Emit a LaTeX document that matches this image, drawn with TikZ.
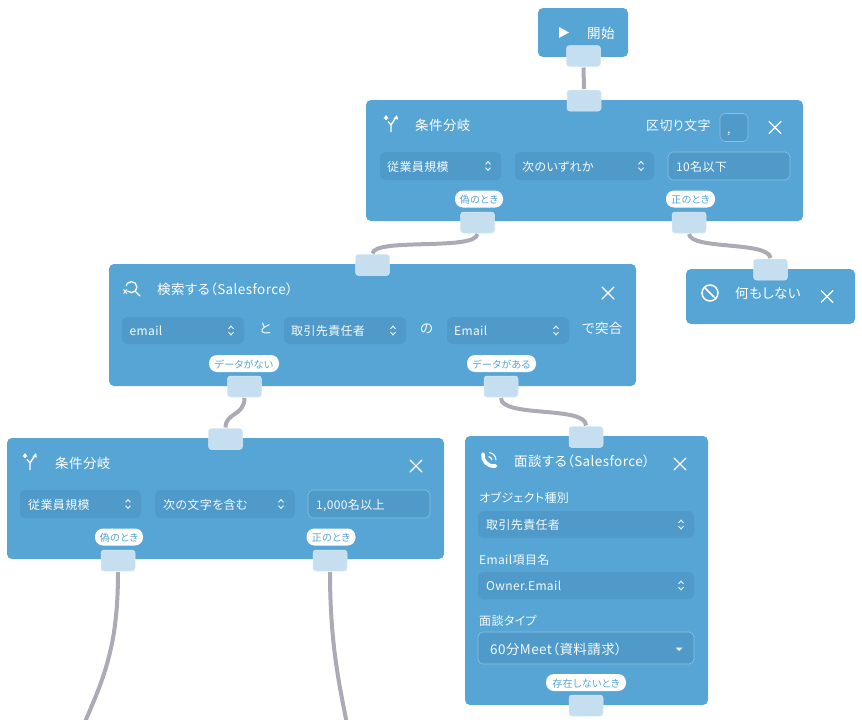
\documentclass[tikz,border=0pt]{standalone}
\usepackage{fontspec}
\setmainfont{Noto Sans CJK JP}[RawFeature=+palt,LetterSpace=3]
\definecolor{panelblue}{HTML}{56A5D5}
\definecolor{fieldblue}{HTML}{4F9AC9}
\definecolor{portblue}{HTML}{C5DFF0}
\definecolor{wiregray}{HTML}{ACAAB4}
\definecolor{edgeblue}{HTML}{8CC1E2}
\tikzset{
	panel/.style={fill=panelblue,rounded corners=5,inner sep=0,outer sep=0},
	port/.style={fill=portblue,draw=portblue!70!white,line width=.5,rounded corners=3,minimum width=34,minimum height=21,inner sep=0,outer sep=1},
	pill/.style={fill=white,text=panelblue,rounded corners=8,minimum height=17,inner sep=0,font=\fontsize{10}{10}\selectfont,text height=9.6,text depth=.4},
	field/.style={fill=fieldblue,rounded corners=5,inner sep=0},
	inputbox/.style={field,draw=edgeblue,line width=.6},
	title/.style={anchor=west,inner sep=0,text=white,font=\fontsize{13.5}{14}\selectfont,text height=1em,text depth=0em},
	label/.style={title,font=\fontsize{12}{13}\selectfont,text=white!94!panelblue},
	wire/.style={draw=wiregray,line width=4},
	iconline/.style={draw=white,line width=1.3,line cap=round},
	updown/.pic={
		\draw[white!90!panelblue,line width=.9] (-2.5,-1.6) -- (0,-4.4) -- (2.5,-1.6);
		\draw[white!90!panelblue,line width=.9] (-2.5,1.6) -- (0,4.4) -- (2.5,1.6);
	},
	cross/.pic={
		\draw[iconline] (-5.8,-5.8) -- (5.8,5.8);
		\draw[iconline] (-5.8,5.8) -- (5.8,-5.8);
	},
	branch/.pic={
		\draw[white,line width=1.4] (0,8) -- (0,1) -- (-3,-2.5);
		\draw[white,line width=1.4] (0,1) -- (4.5,-6);
		\draw[white,line width=1.4] (-5,-4.5) -- (-5,-6);
		\fill[white] (2.5,-5.5) -- (6,-9) -- (7,-4.5) -- cycle;
		\fill[white] (-7.5,-5.5) -- (-5,-9) -- (-2.5,-5.5) -- cycle;
	}
}
\begin{document}
\begin{tikzpicture}[x=1pt,y=-1pt]
	\useasboundingbox (0,0) rectangle (862,720);
	\node[panel,minimum width=90,minimum height=49] (start) at (583,32.5) {};
	\node[panel,minimum width=437,minimum height=121] (cond1) at (584.5,160.5) {};
	\node[panel,minimum width=527,minimum height=122] (search) at (372.5,325) {};
	\node[panel,minimum width=169,minimum height=55] (noop) at (770.5,296.5) {};
	\node[panel,minimum width=437,minimum height=121] (cond2) at (225.5,498.5) {};
	\node[panel,minimum width=243,minimum height=269] (meet) at (586.5,570.5) {};
	%
	\node[port] (startout) at (583.5,56) {};
	\node[port] (cond1in) at (584,100.5) {};
	\node[port] (cond1false) at (477.5,222.5) {};
	\node[port] (cond1true) at (689,222.5) {};
	\node[port] (searchin) at (372.5,265) {};
	\node[port] (searchnone) at (244.5,386.5) {};
	\node[port] (searchfound) at (501,386.5) {};
	\node[port] (noopin) at (770.5,269.5) {};
	\node[port] (cond2in) at (225.5,439) {};
	\node[port] (cond2false) at (118,560.5) {};
	\node[port] (cond2true) at (330,560.5) {};
	\node[port] (meetin) at (586,437) {};
	\node[port] (meetout) at (586,705.5) {};
	\coordinate (endfalse) at (84,724);
	\coordinate (endtrue) at (347,724);
	%
	\draw[wire] (startout.south) -- (cond1in.north);
	\draw[wire] (cond1false.south) .. controls +(-2,17) and +(2,-16) .. (searchin.north);
	\draw[wire] (cond1true.south) .. controls +(2,16) and +(-2,-17) .. (noopin.north);
	\draw[wire] (searchnone.south) .. controls +(0,18) and +(0,-15) .. (cond2in.north);
	\draw[wire] (searchfound.south) .. controls +(0,20) and +(0,-20) .. (meetin.north);
	\draw[wire] (cond2false.south) .. controls +(0,70) and +(22,-50) .. (endfalse);
	\draw[wire] (cond2true.south) .. controls +(0,70) and +(-8,-40) .. (endtrue);
	%
	\fill[white] (559,27) -- (569,32.5) -- (559,38) -- cycle;
	\node[title] (starttext) at (587,33) {開始};
	%
	\pic at (391,124) {branch};
	\node[title] (cond1text) at (415,125) {条件分岐};
	\node[label,font=\fontsize{13}{14}\selectfont] (septext) at (646,125) {区切り文字};
	\node[inputbox,minimum width=28,minimum height=28] (sepbox) at (734,127.5) {};
	\node[label] (sepvalue) at (727,128) {,};
	\pic at (775,127.5) {cross};
	\node[field,minimum width=121,minimum height=28] (cond1f1) at (440.5,166) {};
	\node[field,minimum width=139,minimum height=28] (cond1f2) at (584.5,166) {};
	\node[inputbox,minimum width=122,minimum height=28] (cond1f3) at (729,166) {};
	\node[label] (cond1t1) at (387,166) {従業員規模};
	\node[label] (cond1t2) at (522,166) {次のいずれか};
	\node[label] (cond1t3) at (676,166) {10名以下};
	\pic at (488,166) {updown};
	\pic at (641,166) {updown};
	\node[pill,minimum width=48] (cond1pf) at (479,199) {偽のとき};
	\node[pill,minimum width=49] (cond1pt) at (690.5,199) {正のとき};
	%
	\draw[iconline] (135.5,291.5) -- (140,296);
	\draw[white,line width=1.3] (127.5,291) arc (135:-165:5.5);
	\draw[white,line width=.9] (123.5,289.5) -- (127,293.5) (127,289.5) -- (123.5,293.5);
	\node[title] (searchtext) at (157,289) {検索する（Salesforce）};
	\pic at (608,293) {cross};
	\node[field,minimum width=122,minimum height=27] (searchf1) at (183,330.5) {};
	\node[field,minimum width=122,minimum height=27] (searchf2) at (345,330.5) {};
	\node[field,minimum width=122,minimum height=27] (searchf3) at (508,330.5) {};
	\node[label] (searcht1) at (129.5,330) {email};
	\node[label] (searcht2) at (291,330) {取引先責任者};
	\node[label] (searcht3) at (454,330) {Email};
	\node[label,font=\fontsize{13.5}{14}\selectfont] (andtext) at (259,328) {と};
	\node[label,font=\fontsize{13.5}{14}\selectfont] (oftext) at (420,328) {の};
	\node[label,font=\fontsize{13.5}{14}\selectfont] (matchtext) at (582,328) {で突合};
	\pic at (231,330.5) {updown};
	\pic at (393,330.5) {updown};
	\pic at (556,330.5) {updown};
	\node[pill,minimum width=70] (searchpn) at (244,363.5) {データがない};
	\node[pill,minimum width=69] (searchpf) at (501.5,363.5) {データがある};
	%
	\draw[white,line width=1.5] (704.3,287.3) -- (715.7,298.7);
	\draw[white,line width=1.5] (710,293) circle (8);
	\node[title] (nooptext) at (735,293) {何もしない};
	\pic at (827,296.5) {cross};
	%
	\pic at (30,462) {branch};
	\node[title] (cond2text) at (55,463) {条件分岐};
	\pic at (416,466) {cross};
	\node[field,minimum width=121,minimum height=28] (cond2f1) at (80.5,504) {};
	\node[field,minimum width=140,minimum height=28] (cond2f2) at (225,504) {};
	\node[inputbox,minimum width=122,minimum height=28] (cond2f3) at (369,504) {};
	\node[label] (cond2t1) at (28,504) {従業員規模};
	\node[label] (cond2t2) at (163,504) {次の文字を含む};
	\node[label] (cond2t3) at (316,504) {1,000名以上};
	\pic at (128,504) {updown};
	\pic at (281,504) {updown};
	\node[pill,minimum width=48] (cond2pf) at (119,537) {偽のとき};
	\node[pill,minimum width=49] (cond2pt) at (331,537) {正のとき};
	%
	\draw[white,line width=3.6,line cap=round] (483,454) .. controls (482,461) and (488,467) .. (495.5,466);
	\draw[white,line width=1.1] (489,452.5) .. controls (493,453) and (495.5,455.5) .. (496,460);
	\draw[white,line width=1.1] (488.5,456.5) .. controls (490.5,457) and (491.5,458) .. (492,460);
	\node[title] (meettext) at (514,461) {面談する（Salesforce）};
	\pic at (680,464) {cross};
	\node[label] (meetl1) at (479,497) {オブジェクト種別};
	\node[field,minimum width=216,minimum height=27] (meetf1) at (586,524.5) {};
	\node[label] (meett1) at (486,524) {取引先責任者};
	\pic at (681,524.5) {updown};
	\node[label] (meetl2) at (479,559) {Email項目名};
	\node[field,minimum width=216,minimum height=27] (meetf2) at (586,585.5) {};
	\node[label] (meett2) at (486,585) {Owner.Email};
	\pic at (681,585.5) {updown};
	\node[label] (meetl3) at (479,620) {面談タイプ};
	\node[inputbox,minimum width=216,minimum height=32] (meetf3) at (586,648) {};
	\node[label,font=\fontsize{13.5}{14}\selectfont] (meett3) at (490,649) {60分Meet（資料請求）};
	\fill[white] (675.5,647.5) -- (682.5,647.5) -- (679,651) -- cycle;
	\node[pill,minimum width=80] (meetp) at (586,682.5) {存在しないとき};
\end{tikzpicture}
\end{document}
